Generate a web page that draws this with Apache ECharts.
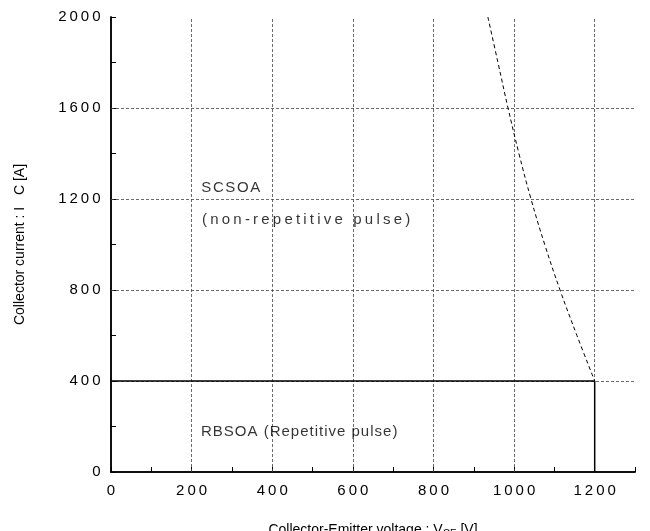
<!DOCTYPE html>
<html><head><meta charset="utf-8">
<script src="https://cdn.jsdelivr.net/npm/echarts@6/dist/echarts.min.js"></script>
<style>html,body{margin:0;padding:0;background:#fff}#c{width:650px;height:531px}</style>
</head><body><div id="c"></div>
<script>
const xGrid = [200,400,600,800,1000,1200];
const yGrid = [400,800,1200,1600];
const rbsoa = [[0,400],[1200,400],[1200,0]];
const scsoaCurve = [[935,2000],[960,1800],[985,1600],[1012,1400],[1042,1200],[1076,1000],[1114,800],[1156,600],[1200,400]];
const annotationX = [222,222,222];
const annotationY = [1248,1108,176];
const annotationText = ['SCSOA','(non-repetitive pulse)','RBSOA (Repetitive pulse)'];

const F = 'Liberation Sans, Arial, sans-serif';
const annotationSpacing = [1.6,3.2,1.0];
// letter-spaced text: each character as its own rich token with side padding
function spaced(str, key){ return str.split('').map(c=>'{'+key+'|'+c+'}').join(''); }
const chart = echarts.init(document.getElementById('c'));
const gridLineStyle = {type:[3,2], color:'#444', width:0.8};
const tickRich = {d:{fontFamily:F,fontSize:15,color:'#000',padding:[0,1.5,0,1.5]}};
const annSeries = annotationText.map((t,i)=>({
  type:'scatter',symbolSize:0,data:[[annotationX[i],annotationY[i],t]],silent:true,z:6,
  label:{show:true,position:'right',distance:0,formatter:p=>spaced(p.data[2],'t'),
    rich:{t:{fontFamily:F,fontSize:15,color:'#000',padding:[0,annotationSpacing[i]/2,0,annotationSpacing[i]/2]}}}
}));
chart.setOption({
  animation:false,
  grid:{left:111,right:15,top:17,bottom:59,show:false,outerBoundsMode:'none',containLabel:false},
  xAxis:[{type:'value',min:0,max:1300,interval:100,
    axisLine:{show:true,lineStyle:{color:'#000',width:1.5}},
    axisTick:{show:true,inside:true,length:5,lineStyle:{color:'#000'}},
    axisLabel:{color:'#000',fontFamily:F,fontSize:15,margin:11,rich:tickRich,
      formatter:v=>(v%200===0?spaced(String(v),'d'):'')},
    splitLine:{show:false},
    name:'Collector-Emitter voltage : V{s|CE} [V]',nameLocation:'middle',nameGap:49,
    nameTextStyle:{color:'#000',fontFamily:F,fontSize:14,verticalAlign:'top',rich:{s:{fontSize:10,fontFamily:F,padding:[8,0,0,0]}}}
  },{type:'value',position:'top',min:0,max:1300,interval:100,
    axisLine:{show:true,lineStyle:{color:'#000',width:1.5}},
    axisTick:{show:false},axisLabel:{show:false},splitLine:{show:false}}],
  yAxis:[{type:'value',min:0,max:2000,interval:200,
    axisLine:{show:true,lineStyle:{color:'#000',width:1.5}},
    axisTick:{show:true,inside:true,length:5,lineStyle:{color:'#000'}},
    axisLabel:{color:'#000',fontFamily:F,fontSize:15,margin:9,rich:tickRich,
      formatter:v=>(v%400===0?spaced(String(v),'d'):'')},
    splitLine:{show:false},
    name:'Collector current : I   {s|C} [A]',nameLocation:'middle',nameGap:84,
    nameTextStyle:{color:'#000',fontFamily:F,fontSize:14,rich:{s:{fontSize:14,fontFamily:F}}}
  },{type:'value',position:'right',min:0,max:2000,interval:200,
    axisLine:{show:true,lineStyle:{color:'#000',width:1.5}},
    axisTick:{show:false},axisLabel:{show:false},splitLine:{show:false}}],
  series:[
    {type:'line',data:[],silent:true,
      markLine:{symbol:'none',silent:true,label:{show:false},lineStyle:gridLineStyle,
        data:xGrid.map(v=>({xAxis:v})).concat(yGrid.map(v=>({yAxis:v})))}},
    {type:'line',data:rbsoa,symbol:'none',lineStyle:{color:'#000',width:1.5},z:5},
    {type:'line',data:scsoaCurve,symbol:'none',smooth:0.4,lineStyle:{color:'#000',width:1,type:[4,3]},z:5}
  ].concat(annSeries)
});
</script></body></html>
